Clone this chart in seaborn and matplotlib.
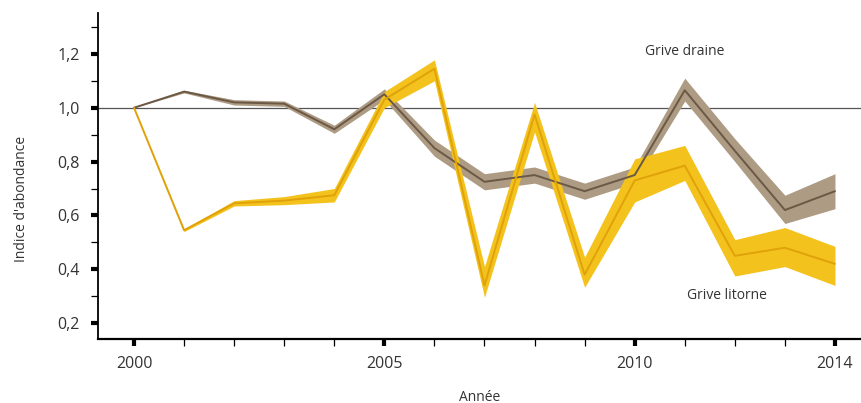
import numpy as np
import pandas as pd
import matplotlib
matplotlib.use("Agg")
import matplotlib.pyplot as plt
import seaborn as sns
from matplotlib.ticker import MultipleLocator, FixedLocator, FuncFormatter

# data
years = list(range(2000, 2015))
draine = [1.00, 1.06, 1.02, 1.015, 0.92, 1.05, 0.85, 0.725, 0.75, 0.69, 0.75, 1.065, 0.84, 0.62, 0.69]
draine_lo = [1.00, 1.055, 1.01, 1.005, 0.905, 1.03, 0.82, 0.695, 0.72, 0.66, 0.72, 1.025, 0.80, 0.57, 0.625]
draine_hi = [1.00, 1.065, 1.03, 1.025, 0.935, 1.07, 0.88, 0.755, 0.78, 0.72, 0.78, 1.11, 0.885, 0.675, 0.755]
litorne = [1.00, 0.545, 0.645, 0.655, 0.675, 1.03, 1.145, 0.34, 0.975, 0.38, 0.73, 0.785, 0.45, 0.48, 0.42]
litorne_lo = [1.00, 0.54, 0.635, 0.64, 0.65, 1.00, 1.10, 0.296, 0.91, 0.333, 0.65, 0.73, 0.375, 0.41, 0.34]
litorne_hi = [1.00, 0.55, 0.655, 0.67, 0.70, 1.06, 1.178, 0.41, 1.02, 0.445, 0.81, 0.86, 0.51, 0.555, 0.485]

brown_band = "#ad9b84"
brown_line = "#6b5845"
yellow_band = "#f4c21c"
yellow_line = "#e0a20a"

df = pd.DataFrame({
    "Année": years * 2,
    "Indice": draine + litorne,
    "Espèce": ["Grive draine"] * len(years) + ["Grive litorne"] * len(years),
})

sns.set_style("ticks")
plt.rcParams["font.family"] = ["Open Sans", "DejaVu Sans"]

fig = plt.figure(figsize=(8.61, 4.03), dpi=100)
ax = fig.add_axes([0.1138, 0.1588, 0.8862, 0.809])

ax.axhline(1.0, color="#555555", lw=0.9, zorder=1)

ax.fill_between(years, draine_lo, draine_hi, color=brown_band, lw=0, zorder=2)
ax.fill_between(years, litorne_lo, litorne_hi, color=yellow_band, lw=0, zorder=3)

sns.lineplot(data=df, x="Année", y="Indice", hue="Espèce",
             palette={"Grive draine": brown_line, "Grive litorne": yellow_line},
             lw=1.4, legend=False, ax=ax, zorder=4)

ax.set_xlim(1999.28, 2014.52)
ax.set_ylim(0.141, 1.352)

ax.xaxis.set_major_locator(FixedLocator([2000, 2005, 2010, 2014]))
ax.xaxis.set_minor_locator(MultipleLocator(1))
ax.yaxis.set_major_locator(FixedLocator([0.2, 0.4, 0.6, 0.8, 1.0, 1.2]))
ax.yaxis.set_minor_locator(FixedLocator([0.3, 0.5, 0.7, 0.9, 1.1, 1.3]))
ax.yaxis.set_major_formatter(FuncFormatter(lambda v, p: f"{v:.1f}".replace(".", ",")))

ax.tick_params(which="major", length=5, width=3, color="black", labelsize=11.5,
               labelcolor="#333333", direction="out")
ax.tick_params(which="minor", length=5, width=0.9, color="black", direction="out")
ax.tick_params(axis="x", which="major", pad=7)
ax.tick_params(axis="y", which="major", pad=8)

sns.despine(ax=ax)
ax.spines["left"].set_linewidth(1.3)
ax.spines["bottom"].set_linewidth(1.6)
ax.spines["left"].set_color("black")
ax.spines["bottom"].set_color("black")

ax.set_xlabel("Année", fontsize=10, color="#333333")
ax.set_ylabel("Indice d'abondance", fontsize=10, color="#333333")
ax.xaxis.set_label_coords(0.5, -0.155)
ax.yaxis.set_label_coords(-0.091, 0.43)

ax.text(2011, 1.21, "Grive draine", fontsize=10, color="#333333", ha="center", va="center")
ax.text(2011.85, 0.303, "Grive litorne", fontsize=10, color="#333333", ha="center", va="center")

fig.savefig("out.png", dpi=100)
